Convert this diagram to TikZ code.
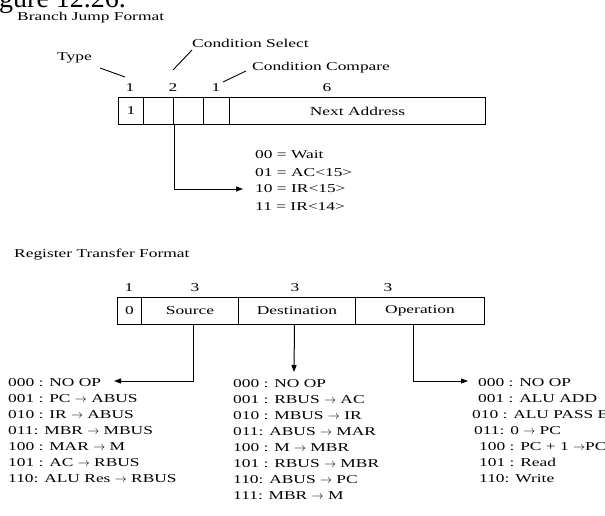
\documentclass[tikz,border=0pt]{standalone}
\usepackage{fontspec}
\setmainfont{Liberation Serif}[FakeStretch=1.45]
\newfontfamily\bigserif{Liberation Serif}
\usetikzlibrary{arrows.meta}
\begin{document}
\begin{tikzpicture}[x=1pt,y=-1pt,
  txt/.style={anchor=base west, inner sep=0pt, font=\fontsize{12}{14}\selectfont},
  ctxt/.style={anchor=base, inner sep=0pt, font=\fontsize{12}{14}\selectfont},
  field/.style={draw, line width=1pt, anchor=north west, inner sep=0pt, font=\fontsize{12}{14}\selectfont},
  conn/.style={line width=1pt},
  arr/.style={conn, -{Triangle[length=7pt,width=5pt]}},
  lead/.style={line width=0.9pt}
]
\path[use as bounding box] (0,0) rectangle (605,516);
\begin{scope}
\clip (0,0) rectangle (605,516);
\node[anchor=base west, inner sep=0pt, font=\bigserif\fontsize{28}{30}\selectfont] (fig) at (-1,8) {gure 12.26.};
\end{scope}

% ---------- Branch Jump Format ----------
\node[txt] (bt) at (17,21) {Branch Jump Format};
\node[txt] (type) at (57,61) {Type};
\node[txt] (csel) at (192,48) {Condition Select};
\node[txt] (ccmp) at (252,71) {Condition Compare};
\coordinate (tyA) at (100,68);  \coordinate (tyB) at (125,77);
\coordinate (csA) at (173,70);  \coordinate (csB) at (192,50);
\coordinate (ccA) at (223,82);  \coordinate (ccB) at (246,71);
\draw[lead] (tyA) -- (tyB);
\draw[lead] (csA) -- (csB);
\draw[lead] (ccA) -- (ccB);

\node[ctxt] (bn1) at (130,92) {1};
\node[ctxt] (bn2) at (173,92) {2};
\node[ctxt] (bn3) at (216,92) {1};
\node[ctxt] (bn4) at (327,92) {6};

\node[field, minimum width=25pt, minimum height=27pt] (bf1) at (118,97) {1};
\node[field, minimum width=30pt, minimum height=27pt] (bf2) at (143,97) {};
\node[field, minimum width=30pt, minimum height=27pt] (bf3) at (173,97) {};
\node[field, minimum width=26pt, minimum height=27pt] (bf4) at (203,97) {};
\node[field, minimum width=256pt, minimum height=27pt] (bf5) at (229,97) {Next Address};

\node[txt] (c0) at (255,159) {00 = Wait};
\node[txt] (c1) at (255,176) {01 = AC<15>};
\node[txt] (c2) at (255,193) {10 = IR<15>};
\node[txt] (c3) at (255,210) {11 = IR<14>};
\coordinate (btip) at (243,189);
\draw[arr] (bf2.south east) |- (btip);

% ---------- Register Transfer Format ----------
\node[txt] (rt) at (14,257) {Register Transfer Format};
\node[ctxt] (rn1) at (129,291) {1};
\node[ctxt] (rn2) at (195,291) {3};
\node[ctxt] (rn3) at (295,291) {3};
\node[ctxt] (rn4) at (388,291) {3};

\node[field, minimum width=24pt, minimum height=27pt] (r0) at (117,297) {0};
\node[field, minimum width=97pt, minimum height=27pt] (rs) at (141,297) {Source};
\node[field, minimum width=117pt, minimum height=27pt] (rd) at (238,297) {Destination};
\node[field, minimum width=129pt, minimum height=27pt] (ro) at (355,297) {Operation};

% left list
\node[txt] (l0) at (8,386) {000 : NO OP};
\node[txt] (l1) at (8,402) {001 : PC $\rightarrow$ ABUS};
\node[txt] (l2) at (8,418) {010 : IR $\rightarrow$ ABUS};
\node[txt] (l3) at (8,434) {011: MBR $\rightarrow$ MBUS};
\node[txt] (l4) at (8,450) {100 : MAR $\rightarrow$ M};
\node[txt] (l5) at (8,466) {101 : AC $\rightarrow$ RBUS};
\node[txt] (l6) at (8,482) {110: ALU Res $\rightarrow$ RBUS};

% middle list
\node[txt] (m0) at (233,387) {000 : NO OP};
\node[txt] (m1) at (233,403) {001 : RBUS $\rightarrow$ AC};
\node[txt] (m2) at (233,419) {010 : MBUS $\rightarrow$ IR};
\node[txt] (m3) at (233,435) {011: ABUS $\rightarrow$ MAR};
\node[txt] (m4) at (233,451) {100 : M $\rightarrow$ MBR};
\node[txt] (m5) at (233,467) {101 : RBUS $\rightarrow$ MBR};
\node[txt] (m6) at (233,483) {110: ABUS $\rightarrow$ PC};
\node[txt] (m7) at (233,499) {111: MBR $\rightarrow$ M};

% right list
\node[txt] (p0) at (478,386) {000 : NO OP};
\node[txt] (p1) at (478,402) {001 : ALU ADD};
\node[txt] (p2) at (472,418) {010 : ALU PASS B};
\node[txt] (p3) at (474,434) {011: 0 $\rightarrow$ PC};
\node[txt] (p4) at (479,450) {100 : PC + 1 $\rightarrow$PC};
\node[txt] (p5) at (479,466) {101 : Read};
\node[txt] (p6) at (479,482) {110: Write};

\coordinate (ltip) at (114,381);
\coordinate (mtip) at (294,372);
\coordinate (rtip) at (468,381);
\draw[arr] ([xshift=3.5pt]rs.south) |- (ltip);
\draw[arr] ([xshift=-2.5pt]rd.south) -- (mtip);
\draw[arr] ([xshift=-6.5pt]ro.south) |- (rtip);
\end{tikzpicture}
\end{document}
